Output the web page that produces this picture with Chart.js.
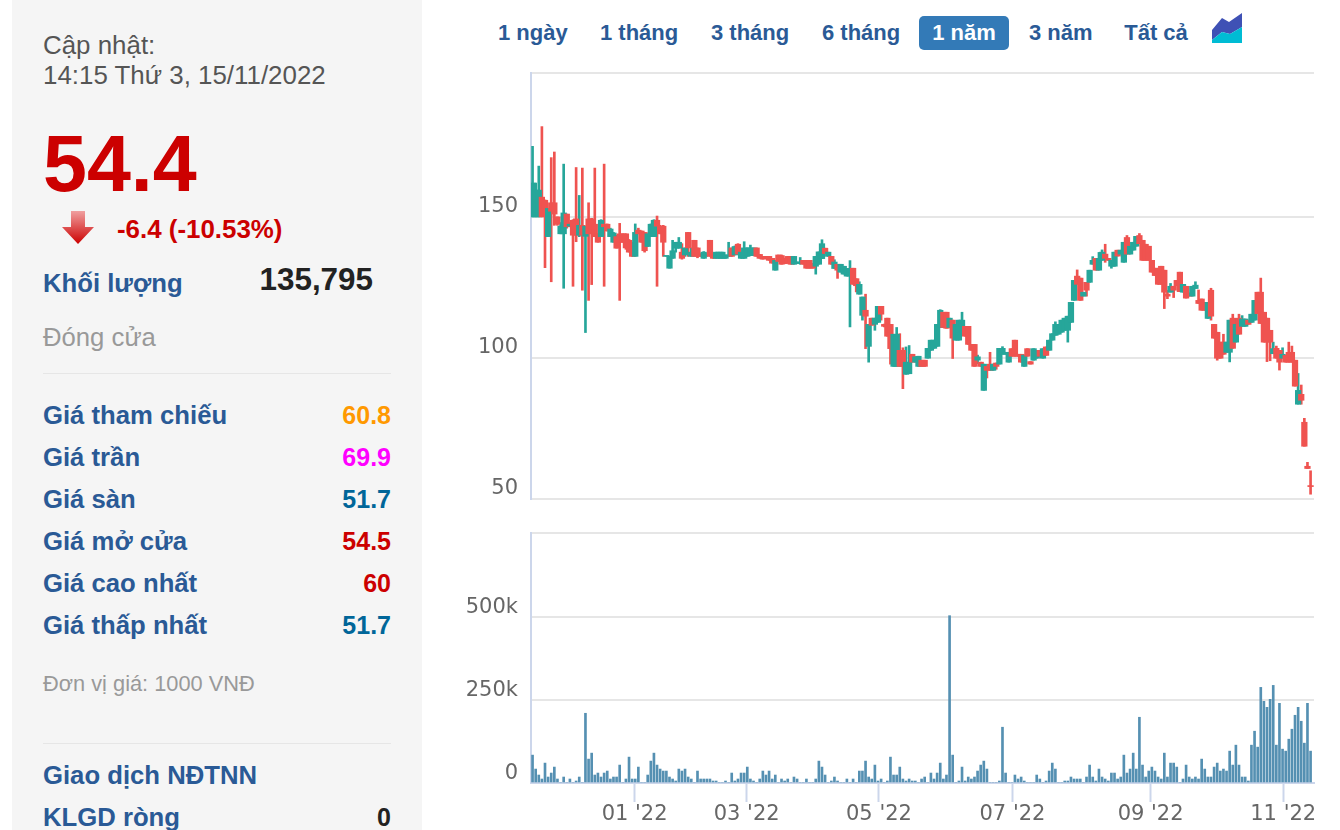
<!DOCTYPE html>
<html lang="vi">
<head>
<meta charset="utf-8">
<title>54.4</title>
<script src="https://cdn.jsdelivr.net/npm/chart.js@4"></script>
<style>
  html, body { margin: 0; padding: 0; background: #fff; }
  body { width: 1340px; height: 830px; position: relative; overflow: hidden; font-family: "Liberation Sans", Arial, sans-serif; }
  .panel { position: absolute; left: 12px; top: 0; width: 410px; height: 830px; background: #f5f5f5; }
  .t { position: absolute; white-space: nowrap; line-height: 30px; }
  .lbl { left: 43px; font-size: 25.7px; font-weight: bold; color: #2a5a96; }
  .val { right: 949px; font-size: 25px; font-weight: bold; }
  .rule { position: absolute; left: 43px; width: 348px; height: 1px; background: #e6e6e6; }
  .tab { position: absolute; top: 16px; height: 34px; line-height: 34px; text-align: center; white-space: nowrap; font-size: 22px; font-weight: bold; color: #2a5a96; }
  .tab.on { background: #337ab7; color: #fff; border-radius: 5px; }
  canvas { position: absolute; left: 460px; }
</style>
</head>
<body>
<div class="panel"></div>
<div class="t" style="left:43px;top:30px;font-size:25.9px;color:#555">Cập nhật:</div>
<div class="t" style="left:43px;top:60px;font-size:25.9px;color:#555">14:15 Thứ 3, 15/11/2022</div>
<div class="t" style="left:43px;top:118px;font-size:79px;line-height:92px;font-weight:bold;color:#c00">54.4</div>
<svg style="position:absolute;left:62px;top:211px" width="32" height="35" viewBox="0 0 32 35">
  <defs><linearGradient id="ar" x1="0" y1="0" x2="0" y2="1"><stop offset="0" stop-color="#f0a0a0"/><stop offset="1" stop-color="#c00"/></linearGradient></defs>
  <polygon points="9,0 23,0 23,16 32,16 16,33 0,16 9,16" fill="url(#ar)"/>
</svg>
<div class="t" style="left:117px;top:214px;font-size:25.9px;font-weight:bold;color:#c00">-6.4 (-10.53%)</div>
<div class="t lbl" style="top:268px">Khối lượng</div>
<div class="t" style="right:967px;top:265px;font-size:31.4px;font-weight:bold;color:#222">135,795</div>
<div class="t" style="left:43px;top:322px;font-size:25.7px;color:#999">Đóng cửa</div>
<div class="rule" style="top:373px"></div>
<div class="t lbl" style="top:400px">Giá tham chiếu</div><div class="t val" style="top:400px;color:#f90">60.8</div>
<div class="t lbl" style="top:442px">Giá trần</div><div class="t val" style="top:442px;color:#f0f">69.9</div>
<div class="t lbl" style="top:484px">Giá sàn</div><div class="t val" style="top:484px;color:#069">51.7</div>
<div class="t lbl" style="top:526px">Giá mở cửa</div><div class="t val" style="top:526px;color:#c00">54.5</div>
<div class="t lbl" style="top:568px">Giá cao nhất</div><div class="t val" style="top:568px;color:#c00">60</div>
<div class="t lbl" style="top:610px">Giá thấp nhất</div><div class="t val" style="top:610px;color:#069">51.7</div>
<div class="t" style="left:43px;top:669px;font-size:21.8px;color:#999">Đơn vị giá: 1000 VNĐ</div>
<div class="rule" style="top:743px"></div>
<div class="t lbl" style="top:760px">Giao dịch NĐTNN</div>
<div class="t lbl" style="top:802px">KLGD ròng</div><div class="t val" style="top:802px;color:#222">0</div>

<div class="tab" style="left:498px;width:69px">1 ngày</div>
<div class="tab" style="left:600px;width:77px">1 tháng</div>
<div class="tab" style="left:711px;width:77px">3 tháng</div>
<div class="tab" style="left:822px;width:77px">6 tháng</div>
<div class="tab on" style="left:919px;width:90px">1 năm</div>
<div class="tab" style="left:1029px;width:62px">3 năm</div>
<div class="tab" style="left:1124px;width:64px">Tất cả</div>
<svg style="position:absolute;left:1212px;top:13px" width="30" height="30" viewBox="0 0 30 30">
  <polygon points="0,17 10,5 17,9 30,0 30,14 18,21 10,19 0,27" fill="#3f51b5"/>
  <polygon points="0,27 10,19 18,21 30,14 30,30 0,30" fill="#00bcd4"/>
</svg>

<canvas id="giaChart" width="860" height="445" style="top:60px;width:860px;height:445px"></canvas>
<canvas id="klChart" width="860" height="305" style="top:525px;width:860px;height:305px"></canvas>

<script>
// Du lieu doc tu hinh: gia (nghin dong) va khoi luong (nghin cp), moi phien mot phan tu
const opens = [
  150,150,150,157,155.9,143,155,155,150,144,
  144,151,146.7,148.8,149.3,143.5,147,143.1,149.3,149.3,
  147.4,144,143,147.4,147.4,143,141,143,144,144,
  144,141.7,141,136,145.3,145,144.5,139.5,143,143,
  148.8,146.7,146.7,136,131.8,135.3,138.9,138.9,137.5,136.5,
  144.5,136,141.7,139,136.7,135.3,136.5,141.7,136.7,135.3,
  135.3,135.3,135.3,136,139,136.5,140.3,135.3,135.3,136,
  136.3,136.3,139,136.7,136,136,136,135.3,131.1,136.5,
  136.3,135.3,136,136,133.2,133.5,133.5,134.6,134.6,134.6,
  133.5,132.5,133.2,135.2,138.9,136,136,131.7,133.2,130.4,
  129.7,129,129,131.8,128.1,122.6,115.1,116.9,104.1,114.1,
  111.9,112.6,118.3,111.9,114.1,111.9,97,97,102.7,102.7,
  94.2,94.4,101.3,98.5,97,99.2,99.2,99.9,102.7,103.4,
  104.1,110.8,116.2,116.2,110.8,113.4,106.3,106.3,111.2,111.2,
  111.2,104.8,104.8,99.2,98.5,88.5,97,97.8,95.6,98.2,
  97.8,101.3,101.3,98.5,103.3,106.3,101.3,101.3,97,103.3,
  98.7,99.2,99.9,102.7,99.9,103.9,102.7,106.3,108,108.4,
  109.1,109.8,109.8,112.6,120.4,129,128.3,121.9,126.8,126.8,
  133.2,135.3,131.1,134.6,136.8,135.3,132.5,132.5,138.2,136.8,
  133.9,142.7,136.8,138.2,139.6,143.4,141.7,140.3,139.6,134.6,
  131.8,131.8,132.5,131.1,122.6,123.3,125.4,127.5,130.4,123.3,
  125.4,123,121.9,124.6,120.4,120.9,119.7,114,124,111.9,
  109.1,105.6,105.6,102,102,114.1,105.6,114.1,111.2,111.2,
  113.4,112.6,113.4,123.3,123.3,116.2,114.1,109.8,101.5,103.4,
  102.7,99.9,100.9,102,102,99.2,83.6,87.1,77.2,61.6,
  54.5,
];
const highs = [
  175,162,168,182,156,153,171,173,150,148,
  168.7,151,148,149,167.5,157.6,167.3,146.7,155,149.5,
  167.3,144,149,168.7,147.5,146,144.5,143.5,147.7,144,
  144,142,141,147.5,146,145,144.5,144,147.5,149,
  150.3,147,147,136,136,141.7,141,142.7,140.5,139,
  144.5,139,141.7,139,137,137.7,137,141.7,137,137.5,
  137.5,137.5,136.5,141,139,139.7,140.5,137.5,141.2,139,
  140,139,139,136.7,136,136,136,135.3,134.6,136.5,
  136.5,135.3,136,136,136,134,135.6,134.6,134.6,134.6,
  133.5,136,137.6,141.9,138.9,137.5,136,134.8,133.2,133.2,
  132.5,131.7,134.5,131.8,128.1,127,121.6,122.6,111.9,114.1,
  114.1,118.3,118.3,112,114.1,111.9,108.4,110.8,108.6,103.6,
  103.9,104.4,101.3,100.4,100.6,99.2,99.2,103.4,106.3,106.3,
  111.9,117.1,116.2,116.2,114.1,113.4,111.9,113.4,116.2,111.2,
  111.2,104.8,104.8,101,98.5,97.8,97,102,97.8,98.2,
  103.4,104,102,102,103.3,106.3,101.3,101.3,101,103.3,
  98.7,103.3,102.7,102.7,103.3,103.9,106.3,108.6,112.8,111.9,
  113.4,114.1,114.8,119.7,127.5,131.2,128.3,123.3,126.8,131.1,
  135.9,135.3,137.4,138.3,140.3,135.3,134.6,137.5,138.2,138.2,
  141,143.4,139.6,141,143.1,144.1,141.7,140.3,139.6,134.6,
  131.8,131.8,132.5,131.1,124,126.4,125.4,127.5,130.4,126.1,
  125.4,123,125.4,127,124.1,120.9,119.7,119.7,124.7,111.9,
  109.1,105.6,108.4,105.6,113.4,115.5,114,115.5,115,113.8,
  113.4,115.5,120.4,123.3,128.3,116.2,114.1,109.8,105.6,104.2,
  102.7,103.6,100.9,105.6,104.2,99.2,94.5,90.4,78.6,63,
  60,
];
const lows = [
  150,150,150,150,132,143,127,147,147,144,
  124.7,146,146.5,125.4,141.2,143,124,109,120.4,126,
  143,141,143,125.4,145,143,141,138.9,120.4,141,
  138.5,137.5,136,136,144,141,137.5,139.5,143,143,
  125.4,144,136,136,131.8,135.3,137.5,138.9,135,136,
  136,136,136,135.5,136,135.3,136,136,135.3,135.3,
  135.3,135.3,135.3,136,136,136.5,136.8,135.3,135.3,136,
  136.3,136.3,136,135.3,135,135.3,134.6,133.6,131.1,134.2,
  133.2,133.4,133.6,133.2,133.2,133.5,133.2,133.2,131.8,131.8,
  131.8,129.7,133.2,135.2,137,136,133.2,131.7,128.2,130.4,
  129.7,129,111,126.1,123.4,122.6,113.4,103.3,98.5,111.6,
  109.8,112.6,113.4,111,107.7,97.8,97,97,97,89.1,
  94.2,94.4,98.5,98.5,97,97,97,99.9,102.7,103.4,
  104.1,110.8,110.8,110.5,110.8,99.8,106.3,106.3,111.2,107.7,
  104.8,102.7,97,98,97,88.5,92.9,95.6,95.6,96,
  97.8,101.3,101.3,98.5,100.6,100.6,100.6,98.5,97,100.6,
  97.8,99.2,99.9,100.6,99.9,100.9,102.7,106.3,108,108.4,
  109.1,109.8,105.6,112.6,120.4,126.1,120.4,121.9,121.9,126.8,
  133.2,131.1,131.1,134.6,133.9,134.6,131.8,132.5,136.1,136.8,
  133.9,136.8,136.8,138.2,139.6,140.5,134.6,134.6,134.6,130.4,
  129.2,126.1,126.1,117.5,121,123.3,121.4,125.6,123.5,123.3,
  121.2,121.9,121.9,124.6,119.3,116.9,116.9,114,113.4,107,
  99.2,99.9,101.3,102,98.6,103.4,105.6,108.4,111.2,111.2,
  111.9,112.6,113.4,115.7,112.2,105.6,98.7,99,101.5,99.9,
  95.7,99.9,98.5,98.5,98.5,90,83.6,83.6,68.7,60.8,
  51.7,
];
const closes = [
  162,159.5,159.5,150,153,153,152,151,147.4,146.7,
  151.4,146.5,147.4,143.5,143.5,147,143.5,146.7,144,144,
  143,141,148.8,146.5,145,145.7,144.3,138.9,141,141,
  139,137.5,136,144.5,144,141,138,144,147.4,148.8,
  146.7,144,141,136,136,138,141,141,135.3,139,
  139,137.5,136,136,136,137.5,136.5,136,135.3,137.5,
  137.5,137.5,136.5,136.5,136,139.5,136.8,137.5,139,139,
  139,139,136,135.3,135,135.3,134.6,133.6,134.6,134.2,
  133.2,133.4,133.6,133.2,136,134,134,133.2,131.8,131.8,
  131.8,136,137.6,140.5,137,137.5,133.2,134,131.1,133.2,
  132.5,131.7,131.7,126.1,125.6,126.1,121.6,114.8,111.9,111.6,
  114.1,118.3,115.5,111.2,107.7,103.3,108.4,108.4,97,97,
  98.5,98.5,98.5,100.4,100.6,97,97,103.4,106.3,106.3,
  111.9,116.9,110.8,110.5,114.1,107,111.9,113.4,113.4,107.7,
  104.8,102.7,97,100.4,97,97.8,95.6,95.6,97.8,97,
  103.4,103.4,102,102,100.6,100.6,100.6,98.5,101,100.6,
  97.8,103.3,102.7,100.6,103.3,100.9,106.3,108.6,111.9,111.9,
  113.4,114.1,114.8,119.7,127.5,126.1,120.4,123.3,124,131.1,
  134.6,131.1,135.3,137.5,135.3,134.6,134.6,137.5,136.1,138.2,
  141,136.8,139.6,141,143.1,140.5,134.6,134.6,134.6,130.4,
  129.2,126.1,126.1,123.3,121.9,125.4,124,125.6,123.5,126.1,
  121.2,121.9,125.4,125.8,119.3,116.9,116.9,119.7,114.8,107,
  99.9,99.9,101.3,105.6,113.4,103.4,111.9,108.4,113.8,113.8,
  111.9,115.5,120.4,115.7,112.2,105.6,105.6,105.6,103.3,99.9,
  98.5,101.3,98.5,98.5,98.5,90,88.5,85,68.7,60.8,
  54.4,
];
const volumes = [
  84,42,24,12,60,18,30,48,12,0,
  18,0,12,0,6,18,0,210,72,90,
  24,30,18,30,36,12,18,18,54,0,
  12,78,12,12,48,0,0,24,66,90,
  54,42,36,36,18,12,6,42,36,42,
  18,12,0,36,12,12,12,12,6,6,
  0,0,6,0,30,6,12,30,30,48,
  12,6,0,12,36,24,36,12,24,0,
  12,6,12,0,18,12,0,0,12,0,
  0,12,66,48,24,0,6,18,6,0,
  0,12,0,12,0,36,36,66,18,12,
  54,6,12,0,6,78,24,24,48,12,
  6,12,6,6,0,12,18,0,30,12,
  30,60,12,24,504,84,0,6,48,6,
  18,12,18,36,54,66,42,0,0,0,
  6,168,30,0,0,24,12,18,6,0,
  0,0,24,12,0,6,36,60,42,0,
  0,6,6,18,12,12,12,0,18,54,
  18,6,42,18,12,6,30,30,12,18,
  84,30,42,90,42,198,54,18,36,48,
  36,18,12,90,18,60,60,48,0,12,
  54,18,12,18,12,72,42,18,18,48,
  60,36,42,36,96,54,114,54,18,18,
  6,114,156,108,288,246,228,252,294,114,
  240,102,96,132,162,204,228,186,120,240,
  96,
];
const priceTicks = [50, 100, 150];
const volumeTicks = [0, 250, 500];
const volumeTickLabels = ['0', '250k', '500k'];
const monthTicks = [32.8, 68.8, 111.3, 154.2, 198.6, 241.2]; // so thu tu phien tai dau thang
const monthLabels = ["01 '22", "03 '22", "05 '22", "07 '22", "09 '22", "11 '22"];

const PRICE_MAX = 201;
const VOLUME_MAX = 753;
const XMIN = -0.5;
const XMAX = 251.1;

const XANH = '#26a69a';
const DO = '#ef5350';
const LUOI = '#e6e6e6';
const TRUC = '#ccd6eb';
const CHU = '#666666';
const fontTruc = { family: '"DejaVu Sans", sans-serif', size: 21 };

const mauNen = closes.map((c, i) => (c >= opens[i] ? XANH : DO));

// Giu vung ve dung kich thuoc: bo phan dem ma scale tu them cho nhan
function coDinhTrucY(axis) {
  axis.width = 71;
  axis.paddingTop = 0;
  axis.paddingBottom = 0;
}

// Bieu do gia: than nen va bong nen la hai bo bar noi
new Chart(document.getElementById('giaChart'), {
  type: 'bar',
  data: {
    datasets: [
      {
        data: opens.map((o, i) => ({ x: i, y: [o, closes[i]] })),
        backgroundColor: mauNen,
        barThickness: 5.6,
        minBarLength: 1,
      },
      {
        data: highs.map((h, i) => ({ x: i, y: [lows[i], h] })),
        backgroundColor: mauNen,
        barThickness: 2,
      },
    ],
  },
  options: {
    responsive: false,
    animation: false,
    grouped: false,
    layout: { padding: { top: 13, right: 6, bottom: 6 } },
    plugins: { legend: { display: false }, tooltip: { enabled: false } },
    scales: {
      x: { type: 'linear', display: false, min: XMIN, max: XMAX, offset: false, grid: { offset: false } },
      y: {
        min: 50,
        max: PRICE_MAX,
        afterFit: coDinhTrucY,
        afterBuildTicks: (axis) => {
          axis.ticks = [...priceTicks, PRICE_MAX].map((value) => ({ value }));
        },
        border: { color: TRUC, width: 2 },
        grid: { color: LUOI, lineWidth: 2, drawTicks: false },
        ticks: {
          autoSkip: false,
          color: CHU,
          font: fontTruc,
          padding: 13,
          labelOffset: -10.5,
          callback: (value) => (priceTicks.includes(value) ? String(value) : ''),
        },
      },
    },
  },
});

// Bieu do khoi luong
new Chart(document.getElementById('klChart'), {
  type: 'bar',
  data: {
    datasets: [
      {
        data: volumes.map((v, i) => ({ x: i, y: v })),
        backgroundColor: '#5590b2',
        barThickness: 2,
      },
    ],
  },
  options: {
    responsive: false,
    animation: false,
    layout: { padding: { top: 8, right: 6 } },
    plugins: { legend: { display: false }, tooltip: { enabled: false } },
    scales: {
      x: {
        type: 'linear',
        min: XMIN,
        max: XMAX,
        offset: false,
        afterFit: (axis) => {
          axis.height = 47;
          axis.paddingLeft = 0;
          axis.paddingRight = 0;
        },
        afterBuildTicks: (axis) => {
          axis.ticks = monthTicks.map((value) => ({ value }));
        },
        border: { color: TRUC, width: 2 },
        grid: { offset: false, drawOnChartArea: false, tickColor: TRUC, tickWidth: 2, tickLength: 19 },
        ticks: {
          autoSkip: false,
          maxRotation: 0,
          color: CHU,
          font: fontTruc,
          padding: 0,
          callback: (value) => monthLabels[monthTicks.indexOf(value)],
        },
      },
      y: {
        min: 0,
        max: VOLUME_MAX,
        afterFit: coDinhTrucY,
        afterBuildTicks: (axis) => {
          axis.ticks = [...volumeTicks, VOLUME_MAX].map((value) => ({ value }));
        },
        border: { color: TRUC, width: 2 },
        grid: { color: LUOI, lineWidth: 2, drawTicks: false },
        ticks: {
          autoSkip: false,
          color: CHU,
          font: fontTruc,
          padding: 13,
          labelOffset: -9,
          callback: (value) => volumeTickLabels[volumeTicks.indexOf(value)] || '',
        },
      },
    },
  },
});
</script>
</body>
</html>
